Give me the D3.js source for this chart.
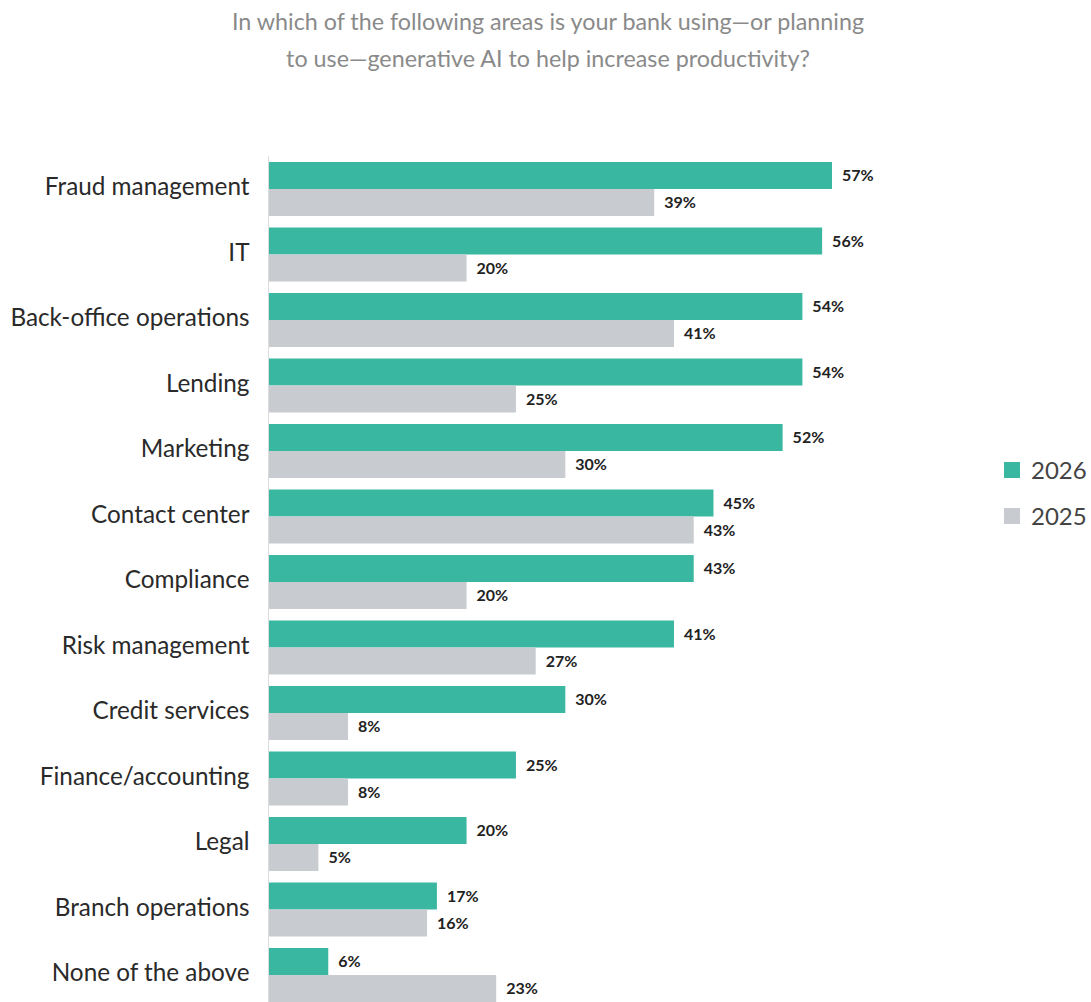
<!DOCTYPE html>
<html>
<head>
<meta charset="utf-8">
<script src="https://cdn.jsdelivr.net/npm/d3@7"></script>
<style>
  html, body { margin: 0; padding: 0; background: #fff; }
  svg { display: block; font-family: Lato, "Open Sans", sans-serif; }
</style>
</head>
<body>
<svg id="chart" width="1091" height="1002"></svg>
<script>
// Survey areas and share of banks using generative AI, by year
const categories = [
  "Fraud management", "IT", "Back-office operations", "Lending", "Marketing",
  "Contact center", "Compliance", "Risk management", "Credit services",
  "Finance/accounting", "Legal", "Branch operations", "None of the above"
];
const years = ["2026", "2025"];
const values2026 = [57, 56, 54, 54, 52, 45, 43, 41, 30, 25, 20, 17, 6];
const values2025 = [39, 20, 41, 25, 30, 43, 20, 27, 8, 8, 5, 16, 23];
const titleLines = [
  "In which of the following areas is your bank using\u2014or planning",
  "to use\u2014generative AI to help increase productivity?"
];

const colors = { "2026": "#3ab7a0", "2025": "#c8ccd0" };

const rows = categories.map((c, i) => ({
  category: c,
  values: [
    { year: "2026", value: values2026[i] },
    { year: "2025", value: values2025[i] }
  ]
}));

const svg = d3.select("#chart");

// Title
svg.append("g")
  .selectAll("text")
  .data(titleLines)
  .join("text")
  .attr("x", 548)
  .attr("y", (d, i) => 30 + i * 37)
  .attr("text-anchor", "middle")
  .attr("fill", "#8a8a8a")
  .style("font-size", "23.3px")
  .text(d => d);

// Scales
const x = d3.scaleLinear().domain([0, 57]).range([269, 832]);
const y = d3.scaleBand()
  .domain(categories)
  .range([162, 1002])
  .paddingInner(11.5 / 65.5)
  .paddingOuter(0);
const ySub = d3.scaleBand().domain(years).range([0, y.bandwidth()]);

// Bars
const groups = svg.append("g")
  .selectAll("g")
  .data(rows)
  .join("g")
  .attr("transform", d => `translate(0,${y(d.category)})`);

groups.selectAll("rect")
  .data(d => d.values)
  .join("rect")
  .attr("x", x(0))
  .attr("y", d => ySub(d.year))
  .attr("width", d => x(d.value) - x(0))
  .attr("height", ySub.bandwidth())
  .attr("fill", d => colors[d.year]);

// Value labels
groups.selectAll("text.val")
  .data(d => d.values)
  .join("text")
  .attr("class", "val")
  .attr("x", d => x(d.value) + 10)
  .attr("y", d => ySub(d.year) + ySub.bandwidth() / 2)
  .attr("dy", "0.35em")
  .attr("fill", "#222")
  .style("font-size", "16px")
  .style("font-weight", "bold")
  .text(d => d.value + "%");

// Category axis
const axis = svg.append("g")
  .attr("transform", `translate(${x(0) - 0.5},-3)`)
  .call(d3.axisLeft(y).tickSize(0).tickPadding(19));
axis.select(".domain").remove();
axis.selectAll("text")
  .attr("fill", "#2a2a2a")
  .attr("dy", "0.38em")
  .style("font-size", "24.3px")
  .style("font-family", "Lato, 'Open Sans', sans-serif");

svg.append("line")
  .attr("x1", x(0) - 0.5).attr("x2", x(0) - 0.5)
  .attr("y1", 156).attr("y2", 1002)
  .attr("stroke", "#dcdcdc")
  .attr("stroke-width", 1);

// Legend
const legend = svg.append("g")
  .selectAll("g")
  .data(years)
  .join("g")
  .attr("transform", (d, i) => `translate(1004,${462 + i * 46})`);
legend.append("rect")
  .attr("width", 16).attr("height", 16)
  .attr("fill", d => colors[d]);
legend.append("text")
  .attr("x", 27).attr("y", 8)
  .attr("dy", "0.36em")
  .attr("fill", "#444")
  .style("font-size", "24px")
  .text(d => d);
</script>
</body>
</html>
